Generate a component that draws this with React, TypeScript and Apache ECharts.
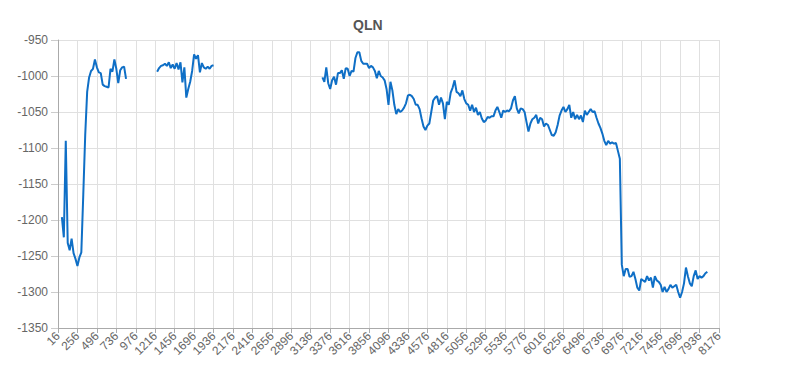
import React, { useEffect, useRef } from "react";
import * as echarts from "echarts";

const title = "QLN";
const xStart = 16;
const xStep = 24;
const xCount = 341;
const labelEvery = 10;
const yMin = -1350;
const yMax = -950;
const yInterval = 50;

const seg1Start = 2;
const seg1 = [
  -1196, -1224, -1090, -1232, -1242, -1226, -1246, -1254, -1264, -1252, -1245, -1165,
  -1082, -1022, -1002, -993, -990, -977, -988, -995, -996, -1012, -1014, -1015,
  -1016, -990, -994, -977, -990, -1010, -992, -988, -987, -1004,
];

const seg2Start = 51;
const seg2 = [
  -994, -989, -986, -985, -983, -986, -981, -989, -984, -990, -982, -991,
  -981, -1009, -988, -1030, -1018, -1008, -993, -970, -976, -971, -995, -982,
  -988, -990, -987, -990, -986, -985,
];

const seg3Start = 136;
const seg3 = [
  -1002, -1008, -988, -1010, -1018, -1006, -1001, -1012, -996, -996, -992, -1004,
  -989, -990, -1000, -993, -994, -975, -967, -967, -979, -983, -983, -983,
  -989, -986, -988, -993, -1003, -993, -1000, -1002, -1006, -1018, -1040, -1008,
  -1020, -1040, -1053, -1046, -1050, -1048, -1044, -1038, -1027, -1026, -1028, -1032,
  -1040, -1040, -1046, -1059, -1070, -1075, -1069, -1066, -1050, -1034, -1030, -1028,
  -1040, -1030, -1038, -1060, -1036, -1040, -1023, -1016, -1006, -1022, -1024, -1028,
  -1020, -1032, -1038, -1040, -1048, -1040, -1050, -1044, -1054, -1050, -1059, -1064,
  -1062, -1057, -1058, -1056, -1056, -1048, -1043, -1050, -1058, -1048, -1050, -1048,
  -1049, -1045, -1034, -1028, -1045, -1052, -1045, -1046, -1050, -1064, -1077, -1066,
  -1060, -1058, -1054, -1066, -1058, -1060, -1070, -1066, -1068, -1075, -1082, -1083,
  -1078, -1068, -1055, -1048, -1043, -1050, -1046, -1040, -1058, -1050, -1060, -1054,
  -1060, -1055, -1064, -1048, -1054, -1050, -1046, -1050, -1049, -1058, -1066, -1072,
  -1080, -1090, -1096, -1090, -1094, -1092, -1094, -1093, -1104, -1115, -1262, -1278,
  -1268, -1268, -1279, -1278, -1272, -1282, -1294, -1298, -1282, -1284, -1286, -1278,
  -1284, -1280, -1294, -1278, -1284, -1286, -1290, -1300, -1293, -1300, -1296, -1290,
  -1294, -1292, -1290, -1300, -1308, -1300, -1288, -1266, -1278, -1288, -1292, -1278,
  -1270, -1282, -1278, -1280, -1278, -1274, -1272,
];

const categories: string[] = [];
for (let i = 0; i < xCount; i++) categories.push(String(xStart + i * xStep));

const values: (number | null)[] = new Array(xCount).fill(null);
const place = (start: number, arr: number[]) => {
  arr.forEach((v, k) => {
    values[start + k] = v;
  });
};
place(seg1Start, seg1);
place(seg2Start, seg2);
place(seg3Start, seg3);

const font = "Arial, 'Liberation Sans', sans-serif";

export default function App() {
  const ref = useRef<HTMLDivElement>(null);
  useEffect(() => {
    if (!ref.current) return;
    const chart = echarts.init(ref.current, null, { renderer: "svg" });
    chart.setOption({
      animation: false,
      backgroundColor: "#ffffff",
      title: {
        text: title,
        left: 348,
        top: 13,
        textStyle: {
          fontFamily: font,
          fontSize: 14,
          fontWeight: "bold",
          color: "#555555",
        },
      },
      grid: { left: 58, right: 69, top: 40, bottom: 63, containLabel: false },
      xAxis: {
        type: "category",
        data: categories,
        boundaryGap: false,
        axisLine: { lineStyle: { color: "#aaaaaa" } },
        axisTick: { show: true, interval: labelEvery - 1, length: 5, lineStyle: { color: "#aaaaaa" } },
        splitLine: { show: true, interval: labelEvery - 1, lineStyle: { color: "#e0e0e0" } },
        axisLabel: {
          interval: labelEvery - 1,
          rotate: 45,
          color: "#666666",
          fontSize: 12,
          fontFamily: font,
          margin: 6,
        },
      },
      yAxis: {
        type: "value",
        min: yMin,
        max: yMax,
        interval: yInterval,
        axisLine: { show: true, lineStyle: { color: "#aaaaaa" } },
        axisTick: { show: true, length: 7, lineStyle: { color: "#cccccc" } },
        splitLine: { show: true, lineStyle: { color: "#e0e0e0" } },
        axisLabel: {
          color: "#666666",
          fontSize: 12,
          fontFamily: font,
          margin: 10,
          formatter: (v: number) => String(v),
        },
      },
      series: [
        {
          type: "line",
          data: values,
          showSymbol: false,
          connectNulls: false,
          lineStyle: { color: "#0f6fc6", width: 2 },
          itemStyle: { color: "#0f6fc6" },
        },
      ],
    });
    return () => chart.dispose();
  }, []);
  return (
    <div
      ref={ref}
      style={{ position: "fixed", left: 0, top: 0, width: 788, height: 391 }}
    />
  );
}
